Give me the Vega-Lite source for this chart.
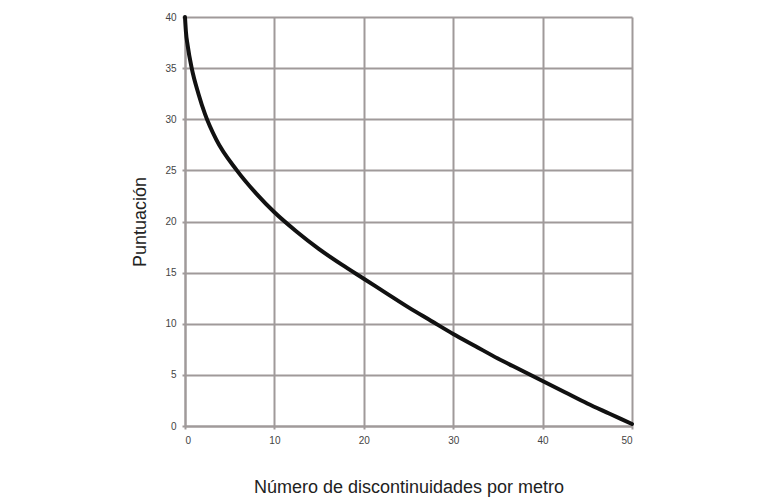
{
  "$schema": "https://vega.github.io/schema/vega-lite/v6.json",
  "autosize": "none",
  "width": 447,
  "height": 409,
  "padding": {"left": 185, "top": 17, "right": 143, "bottom": 74},
  "background": "white",
  "config": {
    "view": {"stroke": null},
    "font": "Liberation Sans"
  },
  "data": {
    "values": [
      {"x": 0, "y": 40},
      {"x": 0.1, "y": 38.6},
      {"x": 0.3, "y": 37.2},
      {"x": 0.75, "y": 35.0},
      {"x": 1.5, "y": 32.5},
      {"x": 2.24, "y": 30.5},
      {"x": 3.5, "y": 28.0},
      {"x": 5.8, "y": 25.0},
      {"x": 8, "y": 22.7},
      {"x": 10, "y": 20.9},
      {"x": 12.5, "y": 19.0},
      {"x": 15, "y": 17.3},
      {"x": 17.5, "y": 15.8},
      {"x": 20, "y": 14.4},
      {"x": 22.5, "y": 13.0},
      {"x": 25, "y": 11.6},
      {"x": 27.5, "y": 10.3},
      {"x": 30, "y": 9.0},
      {"x": 32.5, "y": 7.8},
      {"x": 35, "y": 6.6},
      {"x": 37.5, "y": 5.5},
      {"x": 40, "y": 4.4},
      {"x": 42.5, "y": 3.3},
      {"x": 45, "y": 2.2},
      {"x": 47.5, "y": 1.2},
      {"x": 50, "y": 0.2}
    ]
  },
  "mark": {"type": "line", "color": "#111111", "strokeWidth": 4, "interpolate": "monotone", "strokeCap": "round"},
  "encoding": {
    "x": {
      "field": "x", "type": "quantitative",
      "scale": {"domain": [0, 50], "nice": false},
      "axis": {
        "values": [0, 10, 20, 30, 40, 50],
        "title": "Número de discontinuidades por metro",
        "titleFontSize": 18, "titleFontWeight": "normal", "titleColor": "#222222",
        "titlePadding": 33,
        "labelFontSize": 10, "labelColor": "#444444", "labelPadding": 6,
        "tickSize": 3, "tickColor": "#a09a9a", "tickWidth": 2,
        "domainColor": "#a09a9a", "domainWidth": 2,
        "gridColor": "#a09a9a", "gridWidth": 2, "gridOpacity": 1
      }
    },
    "y": {
      "field": "y", "type": "quantitative",
      "scale": {"domain": [0, 40], "nice": false},
      "axis": {
        "values": [0, 5, 10, 15, 20, 25, 30, 35, 40],
        "title": "Puntuación",
        "titleFontSize": 18, "titleFontWeight": "normal", "titleColor": "#222222",
        "titlePadding": 15,
        "labelFontSize": 10, "labelColor": "#444444", "labelPadding": 6,
        "tickSize": 3, "tickColor": "#a09a9a", "tickWidth": 2,
        "domainColor": "#a09a9a", "domainWidth": 2,
        "gridColor": "#a09a9a", "gridWidth": 2, "gridOpacity": 1
      }
    }
  }
}
